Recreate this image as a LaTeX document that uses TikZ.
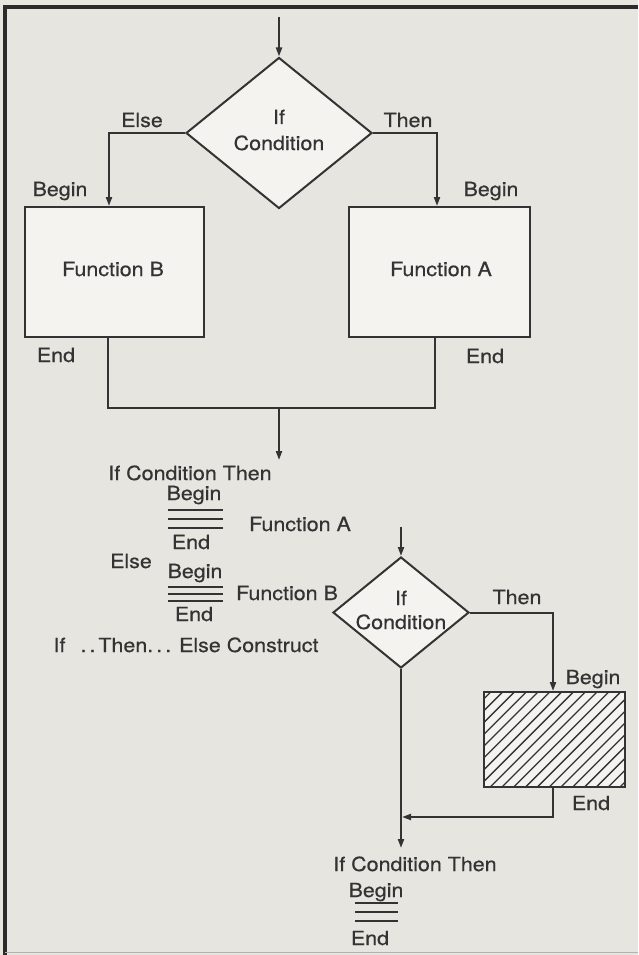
\documentclass[tikz,border=0pt]{standalone}
\usepackage{fontspec}
\setmainfont{TeX Gyre Heros}[FakeStretch=1.1,FakeBold=0.5]
\usetikzlibrary{shapes.geometric,arrows.meta,calc}
\definecolor{paper}{HTML}{E6E5E0}
\definecolor{boxfill}{HTML}{F4F3F0}
\definecolor{ink}{HTML}{333333}
\definecolor{framec}{HTML}{2B2B2B}
\begin{document}
\begin{tikzpicture}[x=1pt,y=-1pt,
  every node/.style={font=\fontsize{19.5}{26}\selectfont, text=ink, inner sep=0pt},
  lbl/.style={anchor=base},
  flow/.style={draw=ink, line width=2pt},
  arr/.style={flow, -{Triangle[length=9pt,width=6pt]}},
  cond/.style={diamond, draw=ink, line width=2pt, fill=boxfill},
  fbox/.style={rectangle, draw=ink, line width=2pt, fill=boxfill},
  hatchbox/.style={fbox, path picture={
      \foreach \i in {0,...,21}
        \draw[ink, line width=1.3pt] ([xshift=\i*11.8pt-100pt]path picture bounding box.south west) -- ++(110,-110);}},
  rulel/.style={draw=ink, line width=1.6pt}]
\fill[paper] (0,0) rectangle (638,955);
\useasboundingbox (0,0) rectangle (638,955);
\draw[framec, line width=3.5pt] (638,7) -- (5,7) -- (5,955);
\draw[gray!60, line width=1pt] (5,952) -- (638,952);

% ---------- upper flowchart ----------
\node[cond, minimum width=186pt, minimum height=151pt] (d1) at (279,133) {};
\node[lbl] (if1) at (279,124) {If};
\node[lbl] (cd1) at (279,150) {Condition};
\coordinate (in1) at (279,17);
\draw[arr] (in1) -- (d1.north);

\node[fbox, minimum width=179pt, minimum height=130pt] (bB) at (114.5,272) {};
\node[fbox, minimum width=181pt, minimum height=130pt] (bA) at (439.5,272) {};
\node[lbl] (fB) at (113,276) {Function B};
\node[lbl] (fA) at (441,276) {Function A};

\draw[arr] (d1.west) -| ([xshift=-5.5pt]bB.north);
\draw[arr] (d1.east) -| ([xshift=-2.5pt]bA.north);
\node[lbl] (elseL) at (142,127) {Else};
\node[lbl] (thenL) at (408,127) {Then};
\node[lbl] (begB) at (60,196) {Begin};
\node[lbl] (begA) at (491,196) {Begin};
\node[lbl] (endB) at (56,362) {End};
\node[lbl] (endA) at (485,363) {End};

\coordinate (m1) at (279,408);
\draw[flow] ([xshift=-6.5pt]bB.south) |- (m1) -| ([xshift=-4.5pt]bA.south);
\coordinate (m1e) at (279,460);
\draw[arr] (m1) -- (m1e);

% ---------- pseudocode 1 ----------
\node[lbl] (t1) at (190,480) {If Condition Then};
\node[lbl] (b1) at (194,500) {Begin};
\foreach \y in {510,519,528} \draw[rulel] (168,\y) -- (223,\y);
\node[lbl] (e1) at (191,549) {End};
\node[lbl] (pfA) at (300,531) {Function A};
\node[lbl] (pel) at (131,568) {Else};
\node[lbl] (b2) at (195,578) {Begin};
\foreach \y in {587,594,601} \draw[rulel] (168,\y) -- (223,\y);
\node[lbl] (e2) at (194,621) {End};
\node[lbl] (pfB) at (287,600) {Function B};
\node[lbl] (cap) at (186,652) {If\hspace{15pt}.\hspace{3pt}.\hspace{3pt}Then.\hspace{3pt}.\hspace{3pt}. Else Construct};

% ---------- lower flowchart ----------
\node[cond, minimum width=136pt, minimum height=111pt] (d2) at (401,612.5) {};
\node[lbl] (if2) at (401,605) {If};
\node[lbl] (cd2) at (401,629) {Condition};
\coordinate (in2) at (401,527);
\draw[arr] (in2) -- (d2.north);
\node[lbl] (then2) at (517,604) {Then};

\node[hatchbox, minimum width=141pt, minimum height=95pt] (hb) at (554.5,739.5) {};
\draw[arr] (d2.east) -| ([xshift=-1.5pt]hb.north);
\node[lbl] (beg2) at (593,684) {Begin};
\node[lbl] (end2) at (591,810) {End};
\coordinate (j2) at (402,817);
\draw[arr] ([xshift=-1.5pt]hb.south) |- (j2);
\coordinate (m2e) at (401,848);
\draw[arr] (d2.south) -- (m2e);

% ---------- pseudocode 2 ----------
\node[lbl] (t2) at (415,871) {If Condition Then};
\node[lbl] (b3) at (376,897) {Begin};
\foreach \y in {903,912,921} \draw[rulel] (355,\y) -- (398,\y);
\node[lbl] (e3) at (370,945) {End};
\end{tikzpicture}
\end{document}
